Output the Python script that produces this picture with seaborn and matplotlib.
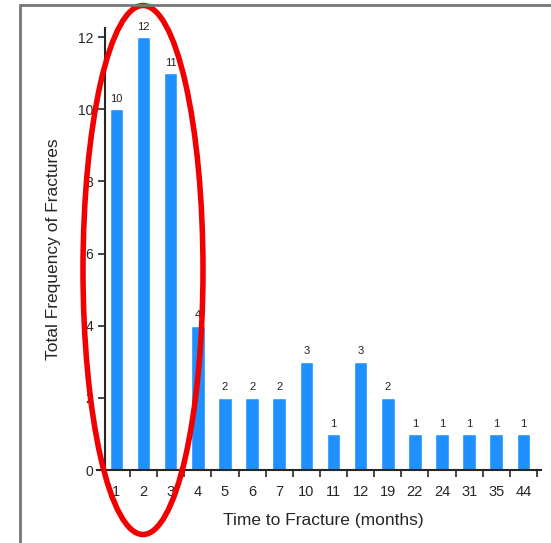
import matplotlib
matplotlib.use("Agg")
import matplotlib.pyplot as plt
import seaborn as sns
import pandas as pd
from matplotlib.patches import Ellipse
from matplotlib.lines import Line2D

months = ["1", "2", "3", "4", "5", "6", "7", "10", "11", "12", "19", "22", "24", "31", "35", "44"]
fractures = [10, 12, 11, 4, 2, 2, 2, 3, 1, 3, 2, 1, 1, 1, 1, 1]
y_ticks = [0, 2, 4, 6, 8, 10, 12]

df = pd.DataFrame({"month": months, "count": fractures})

sns.set_style("ticks")
plt.rcParams["font.family"] = ["Liberation Sans", "DejaVu Sans"]

fig = plt.figure(figsize=(5.51, 5.43), dpi=100)
ax = fig.add_axes([0.1906, 0.1344, 0.7913, 0.814])

sns.barplot(data=df, x="month", y="count", order=months, color="#1E90FF",
            saturation=1, width=0.5, ax=ax)

for i, v in enumerate(fractures):
    ax.text(i, v + 0.15, str(v), ha="center", va="bottom", fontsize=8, color="#222222")

ax.set_xlim(-0.42, 15.65)
ax.set_ylim(0, 12.25)
ax.set_yticks(y_ticks)
ax.set_yticklabels([str(t) for t in y_ticks], fontsize=10)
ax.set_xticks(range(len(months)))
ax.set_xticklabels(months, fontsize=10.5)
# tick marks sit between the bars
ax.set_xticks([i + 0.5 for i in range(len(months))], minor=True)
ax.tick_params(axis="x", which="major", length=0, pad=11)
ax.tick_params(axis="x", which="minor", length=5, width=1.2, direction="out")
ax.tick_params(axis="y", length=5, width=1.2, direction="out")

for s in ["top", "right"]:
    ax.spines[s].set_visible(False)
ax.spines["left"].set_linewidth(1.5)
ax.spines["bottom"].set_linewidth(1.5)
ax.spines["bottom"].set_bounds(-0.72, 15.65)

ax.set_xlabel("Time to Fracture (months)", fontsize=12.5, labelpad=10)
ax.set_ylabel("Total Frequency of Fractures", fontsize=12.5, labelpad=12)

# gray frame, top and left edges
fig.add_artist(Line2D([20 / 551, 1], [1 - 5 / 543, 1 - 5 / 543], color="#777777", lw=2,
                      transform=fig.transFigure))
fig.add_artist(Line2D([20 / 551, 20 / 551], [0, 1 - 5 / 543], color="#777777", lw=2,
                      transform=fig.transFigure))

# red highlight ellipse
ell = Ellipse((143 / 100, (543 - 270) / 100), 1.20, 5.29, angle=0, fill=False,
              edgecolor="#F00000", lw=4, transform=fig.dpi_scale_trans)
fig.add_artist(ell)

fig.savefig("out.png", dpi=100)
